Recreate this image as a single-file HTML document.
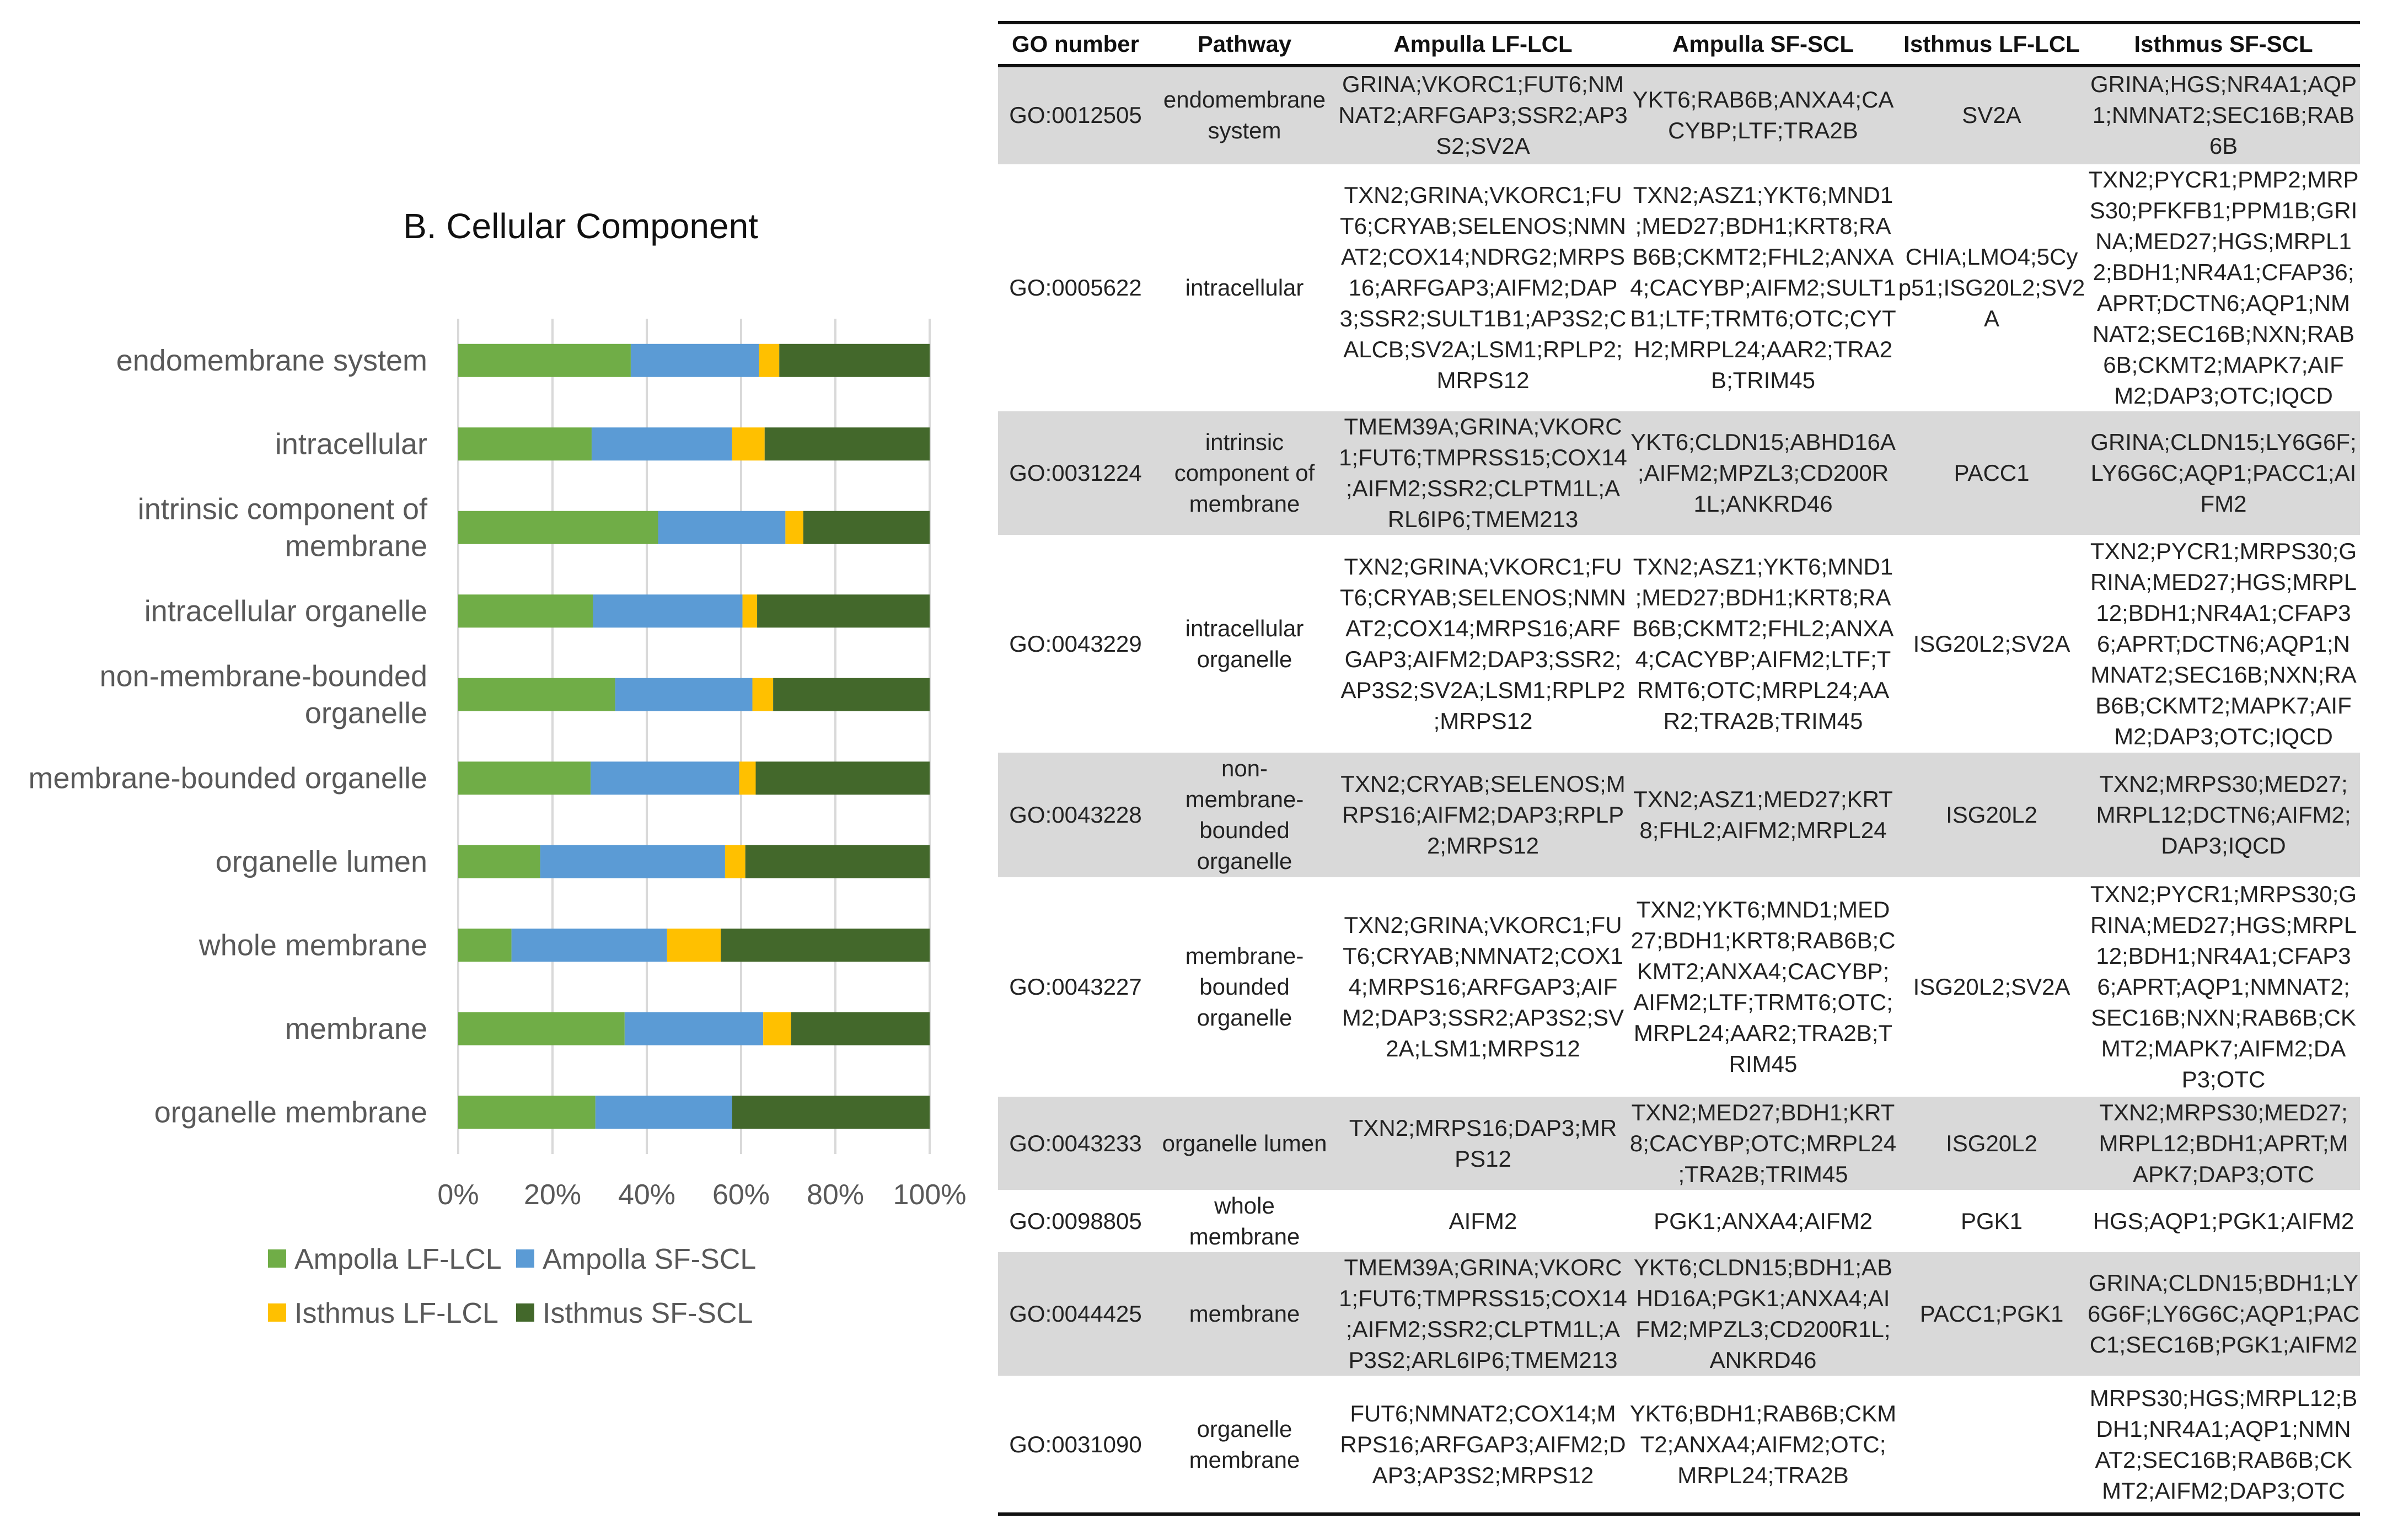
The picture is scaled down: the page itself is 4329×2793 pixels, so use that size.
<!DOCTYPE html>
<html><head><meta charset="utf-8">
<style>
html,body{margin:0;padding:0;background:#fff;}
body{width:4329px;height:2793px;position:relative;overflow:hidden;font-family:"Liberation Sans",sans-serif;}
.cell{position:absolute;display:flex;align-items:center;justify-content:center;text-align:center;font-size:42px;line-height:56px;color:#222;white-space:nowrap;}
.hdr{font-weight:bold;color:#111;font-size:42px;}
.rowbg{position:absolute;background:#d9d9d9;}
.rule{position:absolute;background:#111;height:6px;}
</style></head>
<body>
<svg id="chart" width="1800" height="2793" style="position:absolute;left:0;top:0;" xmlns="http://www.w3.org/2000/svg"></svg>
<div id="table"></div>
<script>
// ---------- chart data ----------
const categories = ["endomembrane system","intracellular","intrinsic component of|membrane","intracellular organelle","non-membrane-bounded|organelle","membrane-bounded organelle","organelle lumen","whole membrane","membrane","organelle membrane"];
const seriesNames = ["Ampolla LF-LCL","Ampolla SF-SCL","Isthmus LF-LCL","Isthmus SF-SCL"];
const ampullaLF = [36.6,28.3,42.4,28.6,33.3,28.1,17.4,11.3,35.3,29.1];
const ampullaSF = [27.2,29.8,27.0,31.7,29.1,31.5,39.2,33.0,29.4,29.0];
const isthmusLF = [4.3,6.9,3.8,3.1,4.4,3.5,4.3,11.4,5.9,0];
const isthmusSF = [31.9,35.0,26.8,36.6,33.2,36.9,39.1,44.3,29.4,41.9];
const ticks = ["0%","20%","40%","60%","80%","100%"];
const colors = ["#70ad47","#5b9bd5","#ffc000","#43682b"];

const svg = document.getElementById('chart');
const NS = "http://www.w3.org/2000/svg";
const X0 = 831, X1 = 1686, Y0 = 578, Y1 = 2093;
const band = (Y1 - Y0) / categories.length;
const barH = 60;
function xs(p){ return X0 + (X1 - X0) * p / 100; }
function yc(i){ return Y0 + band * (i + 0.5); }
function mk(tag, attrs){ const e = document.createElementNS(NS, tag); for (const k in attrs) e.setAttribute(k, attrs[k]); svg.appendChild(e); return e; }

const title = mk('text', {x:1053, y:432, 'font-size':64, 'text-anchor':'middle', fill:'#111', 'font-family':'Liberation Sans, sans-serif'});
title.textContent = "B. Cellular Component";



ticks.forEach((t, k) => {
  const p = k * 20;
  const g = mk('line', {x1:xs(p), x2:xs(p), y1:Y0, y2:Y1, stroke:'#d9d9d9', 'stroke-width':4});
  
  
  const tl = mk('text', {x:xs(p), y:2184, 'font-size':52, 'text-anchor':'middle', fill:'#595959', 'font-family':'Liberation Sans, sans-serif'});
  tl.textContent = t;
  
  
});

const series = [ampullaLF, ampullaSF, isthmusLF, isthmusSF];
categories.forEach((c, i) => {
  let acc = 0;
  series.forEach((s, j) => {
    const v = s[i];
    if (v > 0) {
      const r = mk('rect', {x:xs(acc), y:yc(i) - barH/2, width:xs(acc + v) - xs(acc), height:barH, fill:colors[j]});
      
      
    }
    acc += v;
  });
  const lines = c.split('|');
  lines.forEach((ln, k) => {
    const off = (k - (lines.length - 1) / 2) * 67;
    const t = mk('text', {x:775, y:yc(i) + off + 18, 'font-size':54, 'text-anchor':'end', fill:'#595959', 'font-family':'Liberation Sans, sans-serif'});
    t.textContent = ln;
    
    
  });
});

const legPos = [[486,2283],[936,2283],[486,2381],[936,2381]];
seriesNames.forEach((n, j) => {
  const [lx, ly] = legPos[j];
  const m = mk('rect', {x:lx, y:ly - 17, width:33, height:33, fill:colors[j]});
  
  
  const t = mk('text', {x:lx + 48, y:ly + 18, 'font-size':52, fill:'#595959', 'font-family':'Liberation Sans, sans-serif'});
  t.textContent = n;
  
  
});

// ---------- table ----------
const colB = [1810, 2091, 2423, 2956, 3439, 3785, 4280];
const rowB = [119, 298, 746, 970, 1365, 1591, 1989, 2158, 2271, 2495, 2745];
const headers = ["GO number","Pathway","Ampulla LF-LCL","Ampulla SF-SCL","Isthmus LF-LCL","Isthmus SF-SCL"];
const rows = [
 ["GO:0012505","endomembrane|system","GRINA;VKORC1;FUT6;NM|NAT2;ARFGAP3;SSR2;AP3|S2;SV2A","YKT6;RAB6B;ANXA4;CA|CYBP;LTF;TRA2B","SV2A","GRINA;HGS;NR4A1;AQP|1;NMNAT2;SEC16B;RAB|6B"],
 ["GO:0005622","intracellular","TXN2;GRINA;VKORC1;FU|T6;CRYAB;SELENOS;NMN|AT2;COX14;NDRG2;MRPS|16;ARFGAP3;AIFM2;DAP|3;SSR2;SULT1B1;AP3S2;C|ALCB;SV2A;LSM1;RPLP2;|MRPS12","TXN2;ASZ1;YKT6;MND1|;MED27;BDH1;KRT8;RA|B6B;CKMT2;FHL2;ANXA|4;CACYBP;AIFM2;SULT1|B1;LTF;TRMT6;OTC;CYT|H2;MRPL24;AAR2;TRA2|B;TRIM45","CHIA;LMO4;5Cy|p51;ISG20L2;SV2|A","TXN2;PYCR1;PMP2;MRP|S30;PFKFB1;PPM1B;GRI|NA;MED27;HGS;MRPL1|2;BDH1;NR4A1;CFAP36;|APRT;DCTN6;AQP1;NM|NAT2;SEC16B;NXN;RAB|6B;CKMT2;MAPK7;AIF|M2;DAP3;OTC;IQCD"],
 ["GO:0031224","intrinsic|component of|membrane","TMEM39A;GRINA;VKORC|1;FUT6;TMPRSS15;COX14|;AIFM2;SSR2;CLPTM1L;A|RL6IP6;TMEM213","YKT6;CLDN15;ABHD16A|;AIFM2;MPZL3;CD200R|1L;ANKRD46","PACC1","GRINA;CLDN15;LY6G6F;|LY6G6C;AQP1;PACC1;AI|FM2"],
 ["GO:0043229","intracellular|organelle","TXN2;GRINA;VKORC1;FU|T6;CRYAB;SELENOS;NMN|AT2;COX14;MRPS16;ARF|GAP3;AIFM2;DAP3;SSR2;|AP3S2;SV2A;LSM1;RPLP2|;MRPS12","TXN2;ASZ1;YKT6;MND1|;MED27;BDH1;KRT8;RA|B6B;CKMT2;FHL2;ANXA|4;CACYBP;AIFM2;LTF;T|RMT6;OTC;MRPL24;AA|R2;TRA2B;TRIM45","ISG20L2;SV2A","TXN2;PYCR1;MRPS30;G|RINA;MED27;HGS;MRPL|12;BDH1;NR4A1;CFAP3|6;APRT;DCTN6;AQP1;N|MNAT2;SEC16B;NXN;RA|B6B;CKMT2;MAPK7;AIF|M2;DAP3;OTC;IQCD"],
 ["GO:0043228","non-|membrane-|bounded|organelle","TXN2;CRYAB;SELENOS;M|RPS16;AIFM2;DAP3;RPLP|2;MRPS12","TXN2;ASZ1;MED27;KRT|8;FHL2;AIFM2;MRPL24","ISG20L2","TXN2;MRPS30;MED27;|MRPL12;DCTN6;AIFM2;|DAP3;IQCD"],
 ["GO:0043227","membrane-|bounded|organelle","TXN2;GRINA;VKORC1;FU|T6;CRYAB;NMNAT2;COX1|4;MRPS16;ARFGAP3;AIF|M2;DAP3;SSR2;AP3S2;SV|2A;LSM1;MRPS12","TXN2;YKT6;MND1;MED|27;BDH1;KRT8;RAB6B;C|KMT2;ANXA4;CACYBP;|AIFM2;LTF;TRMT6;OTC;|MRPL24;AAR2;TRA2B;T|RIM45","ISG20L2;SV2A","TXN2;PYCR1;MRPS30;G|RINA;MED27;HGS;MRPL|12;BDH1;NR4A1;CFAP3|6;APRT;AQP1;NMNAT2;|SEC16B;NXN;RAB6B;CK|MT2;MAPK7;AIFM2;DA|P3;OTC"],
 ["GO:0043233","organelle lumen","TXN2;MRPS16;DAP3;MR|PS12","TXN2;MED27;BDH1;KRT|8;CACYBP;OTC;MRPL24|;TRA2B;TRIM45","ISG20L2","TXN2;MRPS30;MED27;|MRPL12;BDH1;APRT;M|APK7;DAP3;OTC"],
 ["GO:0098805","whole|membrane","AIFM2","PGK1;ANXA4;AIFM2","PGK1","HGS;AQP1;PGK1;AIFM2"],
 ["GO:0044425","membrane","TMEM39A;GRINA;VKORC|1;FUT6;TMPRSS15;COX14|;AIFM2;SSR2;CLPTM1L;A|P3S2;ARL6IP6;TMEM213","YKT6;CLDN15;BDH1;AB|HD16A;PGK1;ANXA4;AI|FM2;MPZL3;CD200R1L;|ANKRD46","PACC1;PGK1","GRINA;CLDN15;BDH1;LY|6G6F;LY6G6C;AQP1;PAC|C1;SEC16B;PGK1;AIFM2"],
 ["GO:0031090","organelle|membrane","FUT6;NMNAT2;COX14;M|RPS16;ARFGAP3;AIFM2;D|AP3;AP3S2;MRPS12","YKT6;BDH1;RAB6B;CKM|T2;ANXA4;AIFM2;OTC;|MRPL24;TRA2B","","MRPS30;HGS;MRPL12;B|DH1;NR4A1;AQP1;NMN|AT2;SEC16B;RAB6B;CK|MT2;AIFM2;DAP3;OTC"]
];
const colNames = ["go-number","pathway","ampulla-lf-lcl","ampulla-sf-scl","isthmus-lf-lcl","isthmus-sf-scl"];
const tbl = document.getElementById('table');
function div(cls, l, t, w, h){ const d = document.createElement('div'); d.className = cls; d.style.left = l + 'px'; d.style.top = t + 'px'; d.style.width = w + 'px'; d.style.height = h + 'px'; tbl.appendChild(d); return d; }
rows.forEach((r, i) => {
  if (i % 2 === 0) {
    const bg = div('rowbg', colB[0], rowB[i], colB[6] - colB[0], rowB[i+1] - rowB[i]);
    
    
  }
});
headers.forEach((h, j) => {
  const d = div('cell hdr', colB[j], 41, colB[j+1] - colB[j], 78);
  d.textContent = h;
  
  
});
rows.forEach((r, i) => {
  r.forEach((txt, j) => {
    const d = div('cell', colB[j], rowB[i], colB[j+1] - colB[j], rowB[i+1] - rowB[i]);
    d.innerHTML = txt.split('|').join('<br>');
    
    
  });
});
[[38,'top-rule'],[116,'header-rule'],[2743,'bottom-rule']].forEach(([y, n]) => {
  const d = div('rule', colB[0], y, colB[6] - colB[0], 6);
  
  
});
</script>
</body></html>
